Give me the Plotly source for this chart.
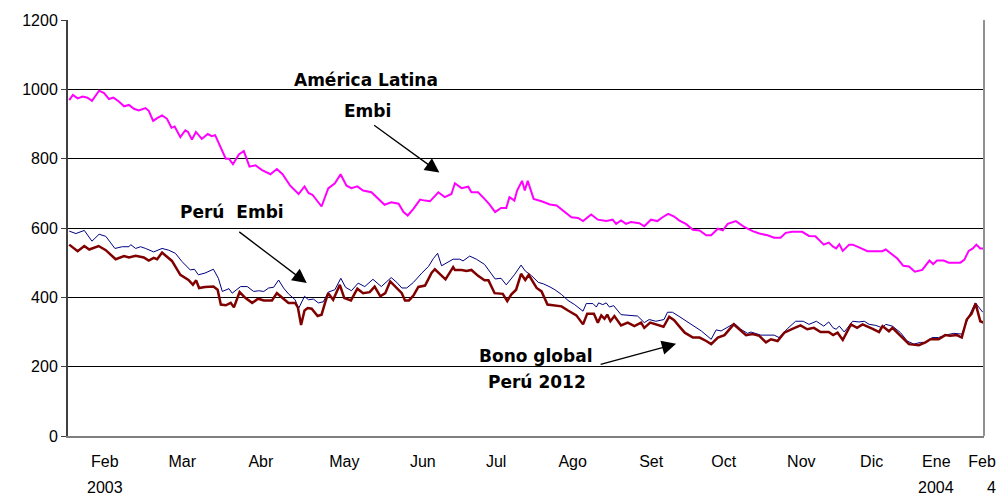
import plotly.graph_objects as go

# x positions in days along the axis (0 = start of the series, ~27 Jan 2003)
al_x = [0.5, 2.0, 3.9, 5.9, 7.9, 9.7, 12.6, 14.6, 16.6, 18.4, 20.6, 22.7, 24.7, 26.7, 28.7, 31.4, 32.7, 34.5,
        36.1, 38.1, 40.1, 41.9, 43.2, 45.5, 47.5, 48.6, 50.2, 51.8, 54.2, 56.6, 58.2, 59.6, 63.9, 65.2, 66.8,
        69.2, 71.2, 73.5, 75.9, 78.6, 82.0, 84.6, 86.9, 90.0, 93.4, 95.8, 97.4, 99.0, 102.7, 105.4, 108.1,
        110.4, 112.8, 114.8, 117.2, 119.5, 122.9, 125.6, 128.2, 130.9, 133.9, 135.9, 137.6, 139.9, 142.6,
        144.6, 146.6, 150.0, 152.6, 155.3, 156.7, 159.4, 162.1, 163.4, 166.1, 168.7, 170.7, 173.0, 175.4,
        177.5, 178.8, 180.8, 181.9, 183.9, 185.0, 186.2, 188.6, 191.8, 195.2, 197.9, 201.2, 203.9, 206.6,
        208.6, 211.9, 214.6, 218.0, 220.6, 222.0, 224.0, 226.0, 228.0, 231.4, 233.4, 236.1, 238.7, 240.8,
        243.1, 245.5, 247.5, 250.4, 253.1, 255.8, 258.5, 260.5, 263.2, 265.2, 267.2, 270.5, 273.9, 277.3,
        280.0, 283.3, 286.0, 288.6, 290.7, 293.3, 297.4, 300.1, 302.7, 306.1, 308.1, 309.9, 311.1, 312.4,
        313.8, 316.4, 317.8, 320.4, 323.8, 329.8, 331.2, 335.9, 338.3, 340.6, 343.0, 346.0, 348.9, 350.4,
        352.0, 354.7, 356.7, 361.4, 363.0, 364.8, 366.5, 367.9, 369.5, 370.8]
al_y = [969, 984, 974, 979, 976, 967, 996, 989, 972, 976, 965, 951, 955, 944, 939, 946, 938, 909,
        917, 925, 915, 889, 893, 862, 882, 877, 855, 877, 857, 871, 865, 868, 800, 800, 784,
        812, 822, 777, 781, 767, 755, 770, 755, 722, 698, 720, 701, 696, 662, 714, 729,
        755, 722, 715, 720, 708, 703, 684, 667, 674, 670, 646, 636, 655, 682,
        679, 677, 703, 689, 698, 729, 715, 719, 703, 703, 684, 668, 646, 658,
        658, 689, 679, 708, 736, 708, 736, 684, 677, 668, 665, 646, 631, 629,
        620, 639, 624, 620, 624, 612, 622, 612, 617, 614, 605, 624, 620, 631,
        641, 633, 622, 611, 595, 593, 579, 579, 598, 593, 612, 620, 603, 591,
        584, 579, 572, 572, 586, 589, 589, 577, 576, 552, 558, 546, 541, 553,
        534, 552, 552, 544, 533, 533, 538, 512, 491, 489, 474, 479, 506, 496,
        506, 506, 500, 500, 508, 534, 541, 552, 541, 541]

pe_x = [0.5, 3.2, 6.6, 9.7, 12.6, 15.3, 19.0, 22.0, 24.7, 25.4, 27.4, 29.4, 31.4, 34.7, 38.1, 40.8, 43.5,
        46.2, 49.5, 51.2, 52.8, 55.5, 58.9, 60.9, 62.5, 65.2, 66.5, 69.9, 72.6, 75.2, 77.3, 79.3, 81.3, 83.3,
        85.3, 87.3, 89.3, 92.0, 93.4, 95.8, 97.4, 99.4, 101.4, 103.4, 105.4, 108.1, 110.5, 112.4, 114.8,
        117.5, 120.2, 123.5, 126.9, 130.9, 133.2, 135.2, 137.2, 139.9, 143.3, 146.0, 148.0, 149.7, 151.3,
        154.0, 156.0, 158.7, 160.0, 162.7, 165.4, 168.7, 170.7, 173.0, 175.4, 177.5, 180.8, 183.5, 185.2,
        187.8, 190.5, 192.5, 195.2, 197.2, 199.9, 202.5, 205.2, 208.6, 209.9, 212.6, 214.0, 214.9, 216.6,
        218.0, 219.3, 221.0, 224.0, 226.7, 230.7, 233.4, 235.4, 238.1, 241.4, 242.8, 244.8, 247.5, 250.4,
        253.8, 256.5, 260.5, 262.5, 264.5, 267.2, 269.9, 272.5, 275.2, 276.6, 280.6, 286.0, 288.0, 291.3,
        294.7, 297.8, 300.1, 303.1, 306.1, 308.1, 309.9, 311.1, 312.4, 314.4, 317.8, 320.4, 322.5, 324.5,
        327.2, 329.8, 331.2, 333.9, 337.2, 339.9, 342.6, 345.3, 347.3, 350.0, 352.6, 355.3, 358.7, 362.0,
        364.8, 367.5, 369.5, 370.5]
pe_y = [591, 584, 593, 562, 582, 576, 541, 546, 546, 552, 541, 546, 541, 531, 541, 536, 527,
        503, 479, 481, 465, 470, 481, 455, 417, 425, 412, 431, 431, 417, 419, 417, 427, 429,
        450, 427, 410, 393, 368, 403, 393, 395, 384, 387, 415, 422, 455, 429, 419,
        441, 431, 452, 431, 457, 443, 427, 427, 443, 470, 489, 512, 527, 491,
        503, 510, 510, 505, 519, 510, 495, 474, 453, 455, 436, 465, 493, 476,
        462, 443, 439, 430, 422, 408, 391, 379, 360, 382, 382, 372, 384, 379,
        384, 372, 376, 350, 348, 346, 327, 336, 331, 336, 357, 357, 345, 331,
        317, 303, 279, 306, 303, 315, 325, 308, 296, 300, 291, 291, 284, 309,
        331, 331, 322, 331, 317, 329, 312, 308, 317, 300, 331, 329, 331, 322,
        319, 312, 322, 317, 298, 274, 265, 270, 270, 284, 284, 291, 296, 294,
        344, 384, 365, 357]

bg_x = [0.5, 3.9, 6.6, 8.6, 12.4, 15.3, 19.3, 22.7, 24.7, 27.4, 30.7, 32.7, 34.7, 36.1, 38.1, 42.1, 45.5,
        48.8, 50.6, 51.9, 53.1, 55.5, 58.9, 60.6, 61.9, 63.9, 65.9, 67.2, 69.5, 71.9, 74.6, 77.0, 79.3, 82.6,
        84.6, 86.9, 89.3, 92.0, 93.1, 94.4, 95.8, 97.1, 98.7, 101.1, 102.7, 104.1, 105.4, 107.4, 110.1,
        111.9, 114.6, 117.2, 119.5, 122.2, 124.2, 126.5, 128.5, 130.5, 132.5, 135.2, 136.5, 138.1, 139.9,
        141.9, 144.6, 147.3, 148.6, 150.6, 152.9, 156.0, 156.7, 159.4, 161.4, 163.4, 166.1, 168.7, 170.3,
        172.8, 176.1, 177.9, 179.5, 181.5, 183.5, 185.2, 186.6, 189.8, 191.8, 194.2, 196.5, 199.9, 202.5,
        205.9, 208.6, 210.3, 213.0, 214.6, 216.0, 217.3, 218.4, 219.7, 221.3, 224.0, 226.7, 229.4, 232.1,
        233.4, 235.8, 238.5, 241.2, 243.5, 245.5, 247.5, 249.8, 253.1, 255.8, 258.5, 260.5, 263.2, 265.9,
        269.6, 271.9, 274.6, 277.3, 280.0, 282.7, 284.7, 287.4, 290.1, 293.4, 296.7, 299.4, 302.1, 304.8,
        308.1, 309.9, 311.7, 313.8, 317.1, 319.6, 321.8, 325.9, 328.5, 329.9, 332.5, 333.9, 337.2, 340.6,
        344.6, 347.3, 349.3, 352.6, 355.3, 357.3, 360.0, 362.0, 364.0, 366.0, 367.6, 369.5, 370.8]
bg_y = [552, 533, 548, 538, 548, 536, 510, 519, 515, 520, 515, 506, 514, 510, 529, 505, 465,
        450, 436, 449, 427, 430, 431, 422, 379, 377, 384, 371, 415, 398, 384, 396, 391, 391,
        412, 398, 384, 384, 371, 320, 362, 369, 367, 346, 350, 384, 412, 393, 436,
        398, 391, 425, 412, 415, 431, 403, 412, 446, 431, 412, 391, 391, 405,
        430, 434, 471, 481, 468, 452, 487, 479, 479, 476, 479, 462, 449, 449,
        412, 410, 389, 408, 422, 468, 450, 465, 427, 417, 379, 377, 374, 362,
        348, 322, 353, 353, 327, 348, 338, 350, 331, 346, 319, 327, 317, 327,
        312, 327, 322, 315, 344, 334, 317, 298, 284, 284, 274, 265, 284, 291,
        322, 309, 291, 294, 289, 270, 279, 274, 298, 309, 319, 308, 312, 300,
        300, 291, 298, 277, 322, 312, 322, 309, 300, 317, 302, 312, 289, 265,
        262, 270, 279, 279, 291, 289, 291, 284, 336, 353, 382, 331, 327]

tick_pos = [14.9, 46.3, 78.1, 111.9, 143.7, 173.4, 204.4, 236.2, 265.6, 297.0, 325.5, 351.7, 370.2]
tick_months = ["Feb", "Mar", "Abr", "May", "Jun", "Jul", "Ago", "Set", "Oct", "Nov", "Dic", "Ene", "Feb"]
year_labels = {0: "2003", 11: "2004", 12: "4"}
y_ticks = [0, 200, 400, 600, 800, 1000, 1200]

fig = go.Figure()
fig.add_trace(go.Scatter(x=al_x, y=al_y, mode="lines", line=dict(color="#FF00FF", width=2), name="América Latina Embi"))
fig.add_trace(go.Scatter(x=pe_x, y=pe_y, mode="lines", line=dict(color="#000080", width=1), name="Perú Embi"))
fig.add_trace(go.Scatter(x=bg_x, y=bg_y, mode="lines", line=dict(color="#800000", width=2.5), name="Bono global Perú 2012"))

AX_FONT = dict(family="Liberation Sans, Arial, sans-serif", size=16, color="black")
LBL_FONT = dict(family="DejaVu Sans, sans-serif", size=17, color="black")

annotations = []
for i, lab in year_labels.items():
    annotations.append(dict(x=tick_pos[i], y=0, xref="x", yref="paper", text=lab, showarrow=False,
                            yshift=-51, xshift=(9 if i == 12 else 0), yanchor="middle", xanchor="center",
                            font=AX_FONT))

annotations += [
    dict(x=120.7, y=1026, text="<b>América Latina</b>", showarrow=False, font=LBL_FONT),
    dict(x=121.1, y=937, text="<b>Embi</b>", showarrow=False, font=LBL_FONT),
    dict(x=66.4, y=646, text="<b>Perú  Embi</b>", showarrow=False, font=LBL_FONT),
    dict(x=189.5, y=231, text="<b>Bono global</b>", showarrow=False, font=LBL_FONT),
    dict(x=189.9, y=157, text="<b>Perú 2012</b>", showarrow=False, font=LBL_FONT),
    dict(x=150.4, y=760, ax=-66.7, ay=-48.3, text="", showarrow=True, arrowhead=2, arrowsize=2.2,
         arrowwidth=1.3, arrowcolor="black"),
    dict(x=96.7, y=441, ax=-69, ay=-52.4, text="", showarrow=True, arrowhead=2, arrowsize=2.2,
         arrowwidth=1.3, arrowcolor="black"),
    dict(x=246.3, y=266, ax=-77, ay=21, text="", showarrow=True, arrowhead=2, arrowsize=2.2,
         arrowwidth=1.3, arrowcolor="black"),
]

fig.update_layout(
    width=1008, height=499,
    margin=dict(l=68, r=18, t=16, b=63),
    paper_bgcolor="white", plot_bgcolor="white",
    showlegend=False,
    annotations=annotations,
    shapes=[dict(type="line", xref="paper", yref="paper", x0=1, x1=1, y0=0, y1=1,
                 line=dict(color="#909090", width=2))],
    xaxis=dict(range=[0, 371], tickmode="array", tickvals=tick_pos, ticktext=tick_months,
               showgrid=False, zeroline=False, showline=True, linecolor="#808080", linewidth=2,
               ticks="", ticklabelstandoff=10, tickfont=AX_FONT),
    yaxis=dict(range=[0, 1200], tickmode="array", tickvals=y_ticks, showgrid=True, gridcolor="black",
               gridwidth=1, zeroline=False, showline=True, linecolor="#404040", linewidth=2,
               ticks="outside", ticklen=5, tickcolor="#404040", tickfont=AX_FONT),
)

fig.write_html("out.html")
